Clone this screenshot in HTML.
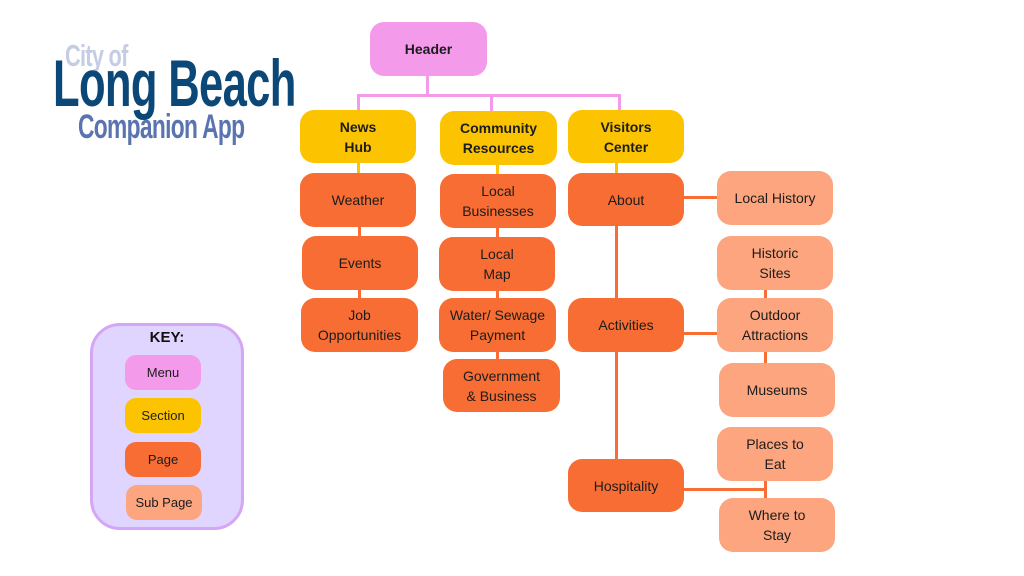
<!DOCTYPE html>
<html><head><meta charset="utf-8">
<style>
body{margin:0;width:1024px;height:576px;background:#fff;position:relative;overflow:hidden;font-family:"Liberation Sans",sans-serif;}
.b{position:absolute;border-radius:14px;display:flex;align-items:center;justify-content:center;text-align:center;font-size:14px;line-height:20px;color:#1c1c1c;box-sizing:border-box;}
.m{background:#F49AEB}.s{background:#FCC400;font-weight:bold}.p{background:#F76D33}.u{background:#FCA57E}
.l{position:absolute;}
.lo{background:#F76D33}.lp{background:#F49AEB}.ly{background:#FCC400}
.logo{position:absolute;font-weight:bold;transform-origin:0 0;white-space:nowrap;}
</style></head><body>
<div class="logo" style="left:65px;top:38px;font-size:31px;color:#C5CDE5;transform:scaleX(0.7);letter-spacing:-1px">City of</div>
<div class="logo" style="left:53px;top:45px;font-size:66px;color:#0B4777;transform:scaleX(0.66);letter-spacing:-1px">Long Beach</div>
<div class="logo" style="left:78px;top:108px;font-size:34px;color:#5A74B0;transform:scaleX(0.67);letter-spacing:-1px">Companion App</div>

<!-- lines -->
<div class="l lp" style="left:426px;top:76px;width:3px;height:20px"></div>
<div class="l lp" style="left:357px;top:94px;width:264px;height:3px"></div>
<div class="l lp" style="left:357px;top:94px;width:3px;height:17px"></div>
<div class="l lp" style="left:490px;top:94px;width:3px;height:17px"></div>
<div class="l lp" style="left:618px;top:94px;width:3px;height:17px"></div>
<div class="l ly" style="left:357px;top:162px;width:3px;height:12px"></div>
<div class="l ly" style="left:496px;top:163px;width:3px;height:12px"></div>
<div class="l ly" style="left:615px;top:162px;width:3px;height:12px"></div>
<div class="l lo" style="left:358px;top:226px;width:3px;height:74px"></div>
<div class="l lo" style="left:496px;top:226px;width:3px;height:135px"></div>
<div class="l lo" style="left:615px;top:225px;width:3px;height:235px"></div>
<div class="l lo" style="left:684px;top:196px;width:34px;height:3px"></div>
<div class="l lo" style="left:684px;top:332px;width:34px;height:3px"></div>
<div class="l lo" style="left:684px;top:488px;width:82px;height:3px"></div>
<div class="l lo" style="left:764px;top:289px;width:3px;height:76px"></div>
<div class="l lo" style="left:764px;top:480px;width:3px;height:20px"></div>

<div class="b m" style="left:370px;top:22px;width:117px;height:54px;font-weight:bold">Header</div>
<div class="b s" style="left:300px;top:110px;width:116px;height:53px">News<br>Hub</div>
<div class="b s" style="left:440px;top:111px;width:117px;height:54px">Community<br>Resources</div>
<div class="b s" style="left:568px;top:110px;width:116px;height:53px">Visitors<br>Center</div>

<div class="b p" style="left:300px;top:173px;width:116px;height:54px">Weather</div>
<div class="b p" style="left:302px;top:236px;width:116px;height:54px">Events</div>
<div class="b p" style="left:301px;top:298px;width:117px;height:54px">Job<br>Opportunities</div>

<div class="b p" style="left:440px;top:174px;width:116px;height:54px">Local<br>Businesses</div>
<div class="b p" style="left:439px;top:237px;width:116px;height:54px">Local<br>Map</div>
<div class="b p" style="left:439px;top:298px;width:117px;height:54px">Water/ Sewage<br>Payment</div>
<div class="b p" style="left:443px;top:359px;width:117px;height:53px">Government<br>&amp; Business</div>

<div class="b p" style="left:568px;top:173px;width:116px;height:53px">About</div>
<div class="b p" style="left:568px;top:298px;width:116px;height:54px">Activities</div>
<div class="b p" style="left:568px;top:459px;width:116px;height:53px">Hospitality</div>

<div class="b u" style="left:717px;top:171px;width:116px;height:54px">Local History</div>
<div class="b u" style="left:717px;top:236px;width:116px;height:54px">Historic<br>Sites</div>
<div class="b u" style="left:717px;top:298px;width:116px;height:54px">Outdoor<br>Attractions</div>
<div class="b u" style="left:719px;top:363px;width:116px;height:54px">Museums</div>
<div class="b u" style="left:717px;top:427px;width:116px;height:54px">Places to<br>Eat</div>
<div class="b u" style="left:719px;top:498px;width:116px;height:54px">Where to<br>Stay</div>

<!-- key -->
<div style="position:absolute;left:90px;top:323px;width:154px;height:207px;box-sizing:border-box;border:3px solid #D5A6F5;border-radius:30px;background:#E0D5FE"></div>
<div style="position:absolute;left:90px;top:329px;width:154px;text-align:center;font-weight:bold;font-size:15px;color:#111">KEY:</div>
<div class="b m" style="left:125px;top:355px;width:76px;height:35px;font-size:13px;border-radius:11px">Menu</div>
<div class="b s" style="left:125px;top:398px;width:76px;height:35px;font-size:13px;border-radius:11px;font-weight:normal">Section</div>
<div class="b p" style="left:125px;top:442px;width:76px;height:35px;font-size:13px;border-radius:11px">Page</div>
<div class="b u" style="left:126px;top:485px;width:76px;height:35px;font-size:13px;border-radius:11px">Sub Page</div>
</body></html>
